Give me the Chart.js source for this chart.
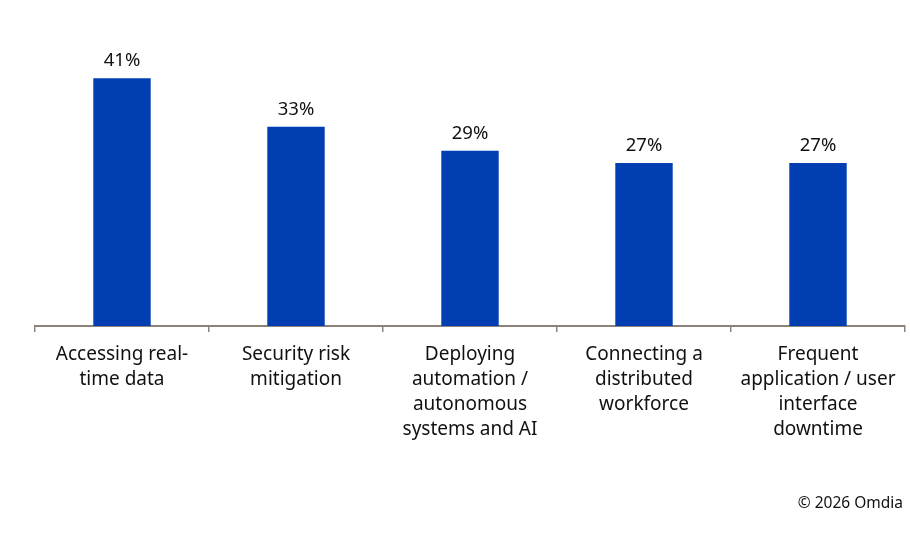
<!DOCTYPE html>
<html>
<head>
<meta charset="utf-8">
<script src="https://cdn.jsdelivr.net/npm/chart.js@4.4.1/dist/chart.umd.min.js"></script>
<style>
  html, body { margin: 0; padding: 0; background: #fff; }
  #wrap { position: relative; width: 910px; height: 542px; }
  #credit {
    position: absolute; right: 7px; top: 491px;
    font: 15.5px "Noto Sans", sans-serif; color: #111;
  }
</style>
</head>
<body>
<div id="wrap">
  <canvas id="chart" width="910" height="542"></canvas>
  <div id="credit">© 2026 Omdia</div>
</div>
<script>
// ===== Data =====
const categories = [
  ["Accessing real-", "time data"],
  ["Security risk", "mitigation"],
  ["Deploying", "automation /", "autonomous", "systems and AI"],
  ["Connecting a", "distributed", "workforce"],
  ["Frequent", "application / user", "interface", "downtime"],
];
const shares = [41, 33, 29, 27, 27];

const BAR_BLUE = "#003eb1";
const AXIS_GREY = "#8c8279";
const FONT = "'Noto Sans', sans-serif";

// value labels above each bar
const valueLabels = {
  id: "valueLabels",
  afterDatasetsDraw(chart) {
    const ctx = chart.ctx;
    const meta = chart.getDatasetMeta(0);
    ctx.save();
    ctx.font = "18.5px " + FONT;
    ctx.fillStyle = "#111";
    ctx.textAlign = "center";
    ctx.textBaseline = "bottom";
    meta.data.forEach((bar, i) => {
      ctx.fillText(shares[i] + "%", bar.x, bar.y - 8);
    });
    ctx.restore();
  },
};

new Chart(document.getElementById("chart"), {
  type: "bar",
  data: {
    labels: categories,
    datasets: [{
      data: shares,
      backgroundColor: BAR_BLUE,
      categoryPercentage: 1,
      barPercentage: 0.33,
    }],
  },
  options: {
    responsive: false,
    animation: false,
    layout: { padding: { left: 35, right: 5, top: 24, bottom: 90 } },
    plugins: {
      legend: { display: false },
      tooltip: { enabled: false },
    },
    scales: {
      x: {
        grid: {
          offset: true,
          drawOnChartArea: false,
          drawTicks: true,
          tickLength: 6,
          color: AXIS_GREY,
          lineWidth: 1.5,
        },
        border: { display: true, color: AXIS_GREY, width: 2 },
        ticks: {
          color: "#111",
          font: { family: FONT, size: 19, lineHeight: 1.316 },
          padding: 10,
          maxRotation: 0,
          autoSkip: false,
        },
      },
      y: {
        display: false,
        min: 0,
        max: 50,
      },
    },
  },
  plugins: [valueLabels],
});
</script>
</body>
</html>
